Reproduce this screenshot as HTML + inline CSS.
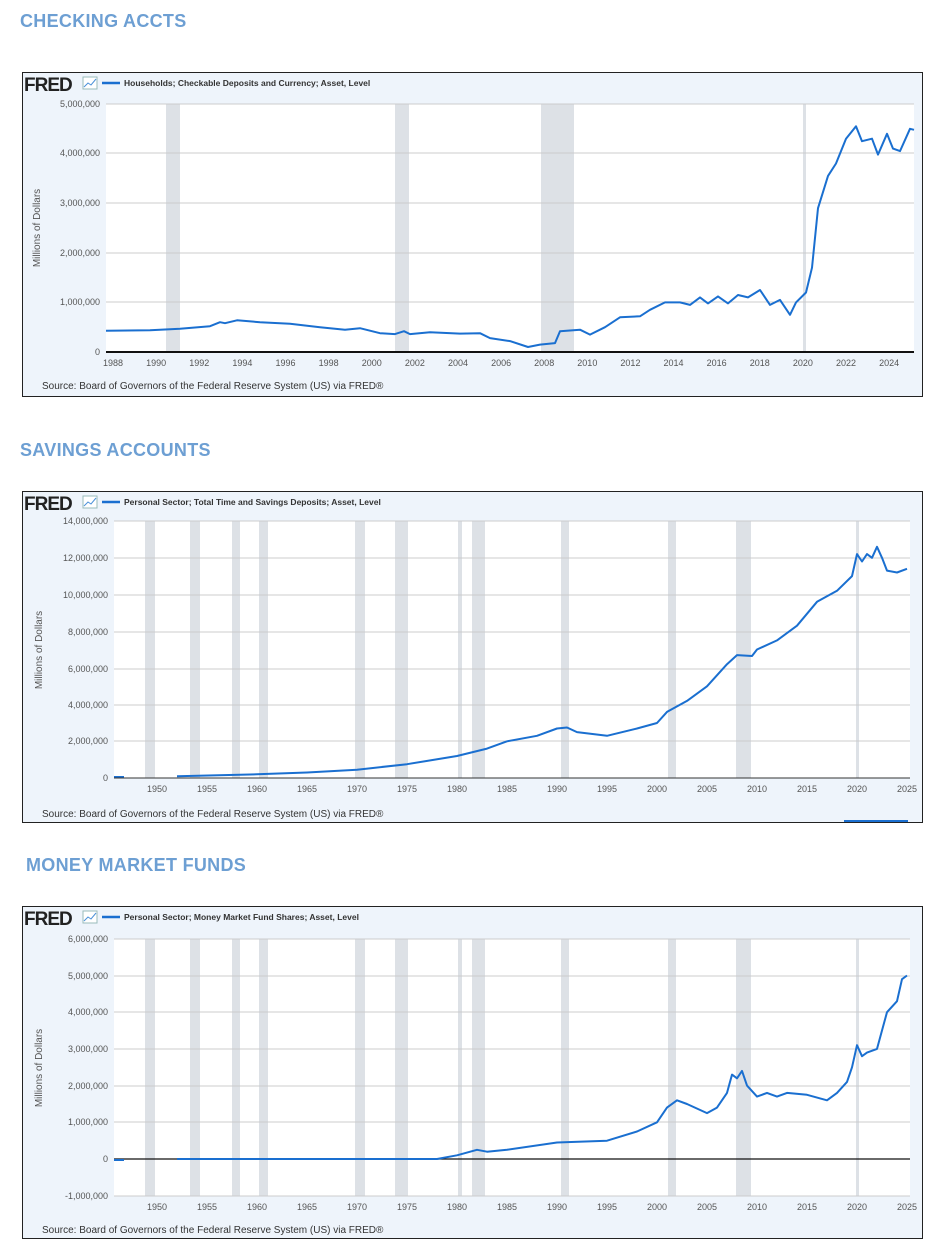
<!DOCTYPE html>
<html><head><meta charset="utf-8">
<style>
body{margin:0;background:#fff;width:940px;height:1252px;overflow:hidden;font-family:"Liberation Sans",sans-serif}
.h{position:absolute;font-weight:bold;font-size:18px;color:#6d9fd3;letter-spacing:0.3px}
svg{position:absolute;left:0;top:0}
</style></head><body>
<div class="h" style="left:20px;top:11px">CHECKING ACCTS</div>
<div class="h" style="left:20px;top:440px">SAVINGS ACCOUNTS</div>
<div class="h" style="left:26px;top:855px">MONEY MARKET FUNDS</div>
<svg id="s" width="940" height="1252" font-family="Liberation Sans, sans-serif"></svg>
<script>
var s=document.getElementById('s'),h='';
function panel(y0,y1,px0,px1,py0,py1,title,src,srcy){
 h+='<rect x="22.5" y="'+(y0+.5)+'" width="900" height="'+(y1-y0)+'" fill="#eef4fb" stroke="#222"/>';
 h+='<rect x="'+px0+'" y="'+py0+'" width="'+(px1-px0)+'" height="'+(py1-py0)+'" fill="#fff"/>';
 h+='<text x="24" y="'+(y0+19)+'" font-size="19" font-weight="bold" fill="#222" letter-spacing="-1">FRED</text>';
 h+='<rect x="83" y="'+(y0+5)+'" width="14" height="12" fill="#fff" stroke="#9bb"/><path d="M84 '+(y0+15)+' l4 -4 l3 2 l5 -6" stroke="#4a90d9" fill="none"/>';
 h+='<line x1="102" x2="120" y1="'+(y0+11)+'" y2="'+(y0+11)+'" stroke="#1a6fd0" stroke-width="2.5"/>';
 h+='<text x="124" y="'+(y0+14)+'" font-size="8.5" font-weight="bold" fill="#333">'+title+'</text>';
 h+='<text x="42" y="'+srcy+'" font-size="10" fill="#333">'+src+'</text>';
}
function grid(px0,px1,ys,labels){for(var i=0;i<ys.length;i++){h+='<line x1="'+px0+'" x2="'+px1+'" y1="'+ys[i]+'" y2="'+ys[i]+'" stroke="#ccc"/>';h+='<text x="'+(px0-6)+'" y="'+(ys[i]+3)+'" font-size="9" fill="#555" text-anchor="end">'+labels[i]+'</text>';}}
function rec(arr,py0,py1){arr.forEach(function(a){h+='<rect x="'+a[0]+'" y="'+py0+'" width="'+(a[1]-a[0])+'" height="'+(py1-py0)+'" fill="#dde1e6"/>';});}
function line(pts){h+='<path d="M'+pts.map(function(p){return p[0].toFixed(1)+' '+p[1].toFixed(1)}).join(' L')+'" fill="none" stroke="#1a6fd0" stroke-width="2" stroke-linejoin="round"/>';}
function xl(arr,y){arr.forEach(function(a){h+='<text x="'+a[0]+'" y="'+y+'" font-size="9" fill="#555" text-anchor="middle">'+a[1]+'</text>';});}
var SRC='Source: Board of Governors of the Federal Reserve System (US) via FRED®';
// chart1
panel(72,396,106,914,104,352,'Households; Checkable Deposits and Currency; Asset, Level',SRC,389);
rec([[166,180],[395,409],[541,574],[803,806]],104,352);
grid(106,914,[104,153,203,253,302,352],['5,000,000','4,000,000','3,000,000','2,000,000','1,000,000','0']);
var d1=[[106,.43],[150,.44],[180,.47],[210,.52],[220,.6],[225,.58],[237,.64],[260,.6],[290,.57],[320,.5],[345,.45],[360,.48],[380,.38],[395,.36],[404,.42],[410,.36],[430,.4],[460,.37],[480,.38],[490,.28],[510,.22],[528,.1],[540,.15],[555,.18],[560,.42],[580,.45],[590,.35],[605,.5],[620,.7],[640,.72],[650,.85],[665,1],[680,1],[690,.95],[700,1.1],[708,.98],[718,1.12],[728,.98],[738,1.15],[748,1.1],[760,1.25],[770,.95],[780,1.05],[790,.75],[796,1],[806,1.2],[812,1.7],[818,2.9],[828,3.55],[836,3.8],[846,4.3],[856,4.55],[862,4.25],[872,4.3],[878,3.98],[887,4.4],[893,4.1],[900,4.05],[910,4.5],[914,4.48]];
line(d1.map(function(p){return [p[0],352-p[1]*49.6]}));
h+='<line x1="106" x2="914" y1="352" y2="352" stroke="#111" stroke-width="2"/>';
var a=[];for(var y=1988;y<=2024;y+=2)a.push([113+(y-1988)*21.56,y]);xl(a,366);
// chart2 & 3 recessions
var R=[[145,155],[190,200],[232,240],[259,268],[355,365],[395,408],[458,462],[472,485],[561,569],[668,676],[736,751],[856,859]];
function X(yr){return 157+(yr-1950)*10}
panel(491,822,114,910,521,778,'Personal Sector; Total Time and Savings Deposits; Asset, Level',SRC,817);
rec(R,521,778);
grid(114,910,[521,558,595,632,669,705,741,778],['14,000,000','12,000,000','10,000,000','8,000,000','6,000,000','4,000,000','2,000,000','0']);
var d2=[[1952,.1],[1960,.2],[1965,.3],[1970,.45],[1975,.75],[1980,1.2],[1983,1.6],[1985,2],[1988,2.3],[1990,2.7],[1991,2.75],[1992,2.5],[1995,2.3],[1998,2.7],[2000,3],[2001,3.6],[2003,4.2],[2005,5],[2007,6.2],[2008,6.7],[2009.5,6.65],[2010,7],[2012,7.5],[2014,8.3],[2016,9.6],[2018,10.2],[2019.5,11],[2020,12.2],[2020.5,11.8],[2021,12.2],[2021.5,12],[2022,12.6],[2022.5,12],[2023,11.3],[2024,11.2],[2025,11.4]];
line([[114,777],[124,777]]);
line(d2.map(function(p){return [X(p[0]),778-p[1]*18.35]}));
h+='<line x1="114" x2="910" y1="778" y2="778" stroke="#333" stroke-width="1"/>';
a=[];for(var y=1950;y<=2025;y+=5)a.push([X(y),y]);xl(a,792);
h+='<line x1="844" x2="908" y1="821" y2="821" stroke="#1a6fd0" stroke-width="2"/>';
// chart3
panel(906,1238,114,910,939,1196,'Personal Sector; Money Market Fund Shares; Asset, Level',SRC,1233);
rec(R,939,1196);
grid(114,910,[939,976,1012,1049,1086,1122,1159,1196],['6,000,000','5,000,000','4,000,000','3,000,000','2,000,000','1,000,000','0','-1,000,000']);
var d3=[[1952,0],[1978,0],[1980,.1],[1982,.25],[1983,.2],[1985,.25],[1990,.45],[1995,.5],[1998,.75],[2000,1],[2001,1.4],[2002,1.6],[2003,1.5],[2005,1.25],[2006,1.4],[2007,1.8],[2007.5,2.3],[2008,2.2],[2008.5,2.4],[2009,2],[2010,1.7],[2011,1.8],[2012,1.7],[2013,1.8],[2015,1.75],[2017,1.6],[2018,1.8],[2019,2.1],[2019.5,2.5],[2020,3.1],[2020.5,2.8],[2021,2.9],[2022,3],[2022.5,3.5],[2023,4],[2024,4.3],[2024.5,4.9],[2025,5]];
h+='<line x1="114" x2="910" y1="1159" y2="1159" stroke="#111" stroke-width="1.2"/>';
line([[114,1160],[124,1160]]);
line(d3.map(function(p){return [X(p[0]),1159-p[1]*36.7]}));
xl(a,1210);
// y axis titles
h+='<text transform="translate(40,228) rotate(-90)" font-size="10" fill="#555" text-anchor="middle">Millions of Dollars</text>';
h+='<text transform="translate(42,650) rotate(-90)" font-size="10" fill="#555" text-anchor="middle">Millions of Dollars</text>';
h+='<text transform="translate(42,1068) rotate(-90)" font-size="10" fill="#555" text-anchor="middle">Millions of Dollars</text>';
s.innerHTML=h;
</script>
</body></html>
